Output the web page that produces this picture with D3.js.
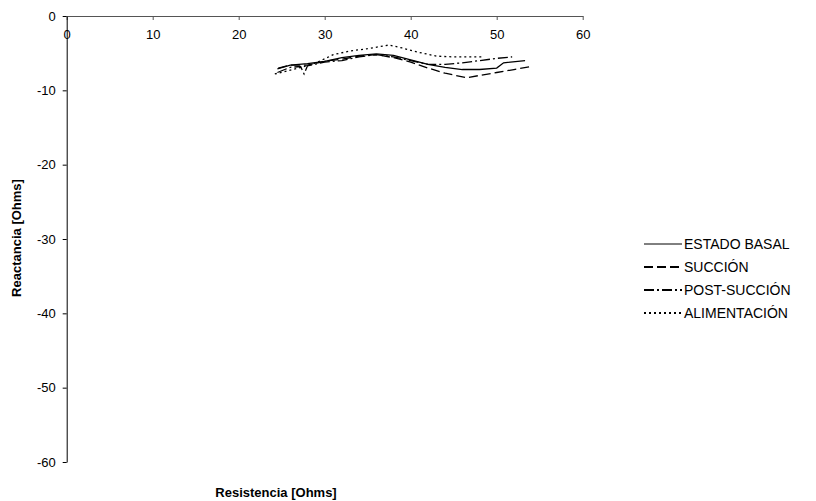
<!DOCTYPE html>
<html>
<head>
<meta charset="utf-8">
<script src="https://cdn.jsdelivr.net/npm/d3@7"></script>
<style>
  body { margin: 0; background: #fff; }
  text { font-family: "Liberation Sans", Arial, sans-serif; }
</style>
</head>
<body>
<div id="chart"></div>
<script>
// Series data: [resistencia, reactancia]
const estadoBasal = [
  [24.5, -7.1], [26, -6.6], [28, -6.4], [30, -6.1], [32, -5.6], [34, -5.3],
  [36, -5.1], [38, -5.3], [40, -5.9], [42, -6.5], [44, -6.9], [46, -7.2],
  [48, -7.2], [50, -7.0], [50.8, -6.3], [53.3, -6.0]
];
const succion = [
  [24.6, -7.0], [26, -6.6], [28, -6.6], [30, -6.1], [32, -5.8], [34, -5.4],
  [36, -5.2], [38, -5.6], [40, -6.2], [42, -7.0], [44, -7.7], [46.5, -8.3],
  [48, -8.0], [50, -7.6], [52, -7.2], [53.9, -6.8]
];
const postSuccion = [
  [24.5, -7.6], [26, -6.9], [27.2, -6.8], [27.6, -7.8], [28, -6.7], [30, -6.2],
  [32, -6.0], [34, -5.5], [36, -5.2], [38, -5.5], [40, -6.0], [42, -6.5],
  [44, -6.5], [46, -6.3], [48, -6.0], [50, -5.7], [51.8, -5.5]
];
const alimentacion = [
  [24.2, -7.8], [27, -7.0], [29, -6.3], [31, -5.2], [33, -4.7], [35, -4.4],
  [37.5, -3.9], [39, -4.3], [41, -4.9], [43, -5.4], [45, -5.5], [48.4, -5.5]
];

const seriesNames = ["ESTADO BASAL", "SUCCIÓN", "POST-SUCCIÓN", "ALIMENTACIÓN"];
const seriesData = [estadoBasal, succion, postSuccion, alimentacion];
const dashes = [null, "9,4", "10,3,2,3", "2,3"];

const xTicks = [0, 10, 20, 30, 40, 50, 60];
const yTicks = [0, -10, -20, -30, -40, -50, -60];

const width = 816, height = 501;

const svg = d3.select("#chart").append("svg")
  .attr("width", width)
  .attr("height", height);

const x = d3.scaleLinear().domain([0, 60]).range([66.7, 582.7]);
const y = d3.scaleLinear().domain([0, -60]).range([16, 462]);

// x axis along y = 0, ticks pointing down, labels below
const xAxis = svg.append("g")
  .attr("transform", `translate(0,${y(0)})`)
  .call(d3.axisBottom(x).tickValues(xTicks).tickSize(4).tickSizeOuter(0).tickPadding(10));
xAxis.select(".domain").attr("stroke", "#555");
xAxis.selectAll(".tick line").attr("stroke", "#555");
xAxis.selectAll("text").attr("font-size", 13).attr("fill", "#000")
  .attr("font-family", "Liberation Sans, Arial, sans-serif");

// y axis
const yAxis = svg.append("g")
  .attr("transform", `translate(${x(0)},0)`)
  .call(d3.axisLeft(y).tickValues(yTicks).tickSize(4).tickSizeOuter(0).tickPadding(7));
yAxis.selectAll("text").attr("font-size", 13).attr("fill", "#000")
  .attr("font-family", "Liberation Sans, Arial, sans-serif")
  .text(d => d === 0 ? "0" : String(d));
yAxis.select(".domain").attr("stroke", "#000");

// axis titles
svg.append("text")
  .attr("x", 276).attr("y", 497)
  .attr("text-anchor", "middle")
  .attr("font-size", 13).attr("font-weight", "bold")
  .text("Resistencia [Ohms]");

svg.append("text")
  .attr("transform", "translate(21,238) rotate(-90)")
  .attr("text-anchor", "middle")
  .attr("font-size", 13).attr("font-weight", "bold")
  .text("Reactancia [Ohms]");

// lines
const line = d3.line().x(d => x(d[0])).y(d => y(d[1]));

seriesData.forEach((s, i) => {
  svg.append("path")
    .datum(s)
    .attr("fill", "none")
    .attr("stroke", "#000")
    .attr("stroke-width", 1.3)
    .attr("stroke-dasharray", dashes[i])
    .attr("d", line);
});

// legend
const legend = svg.append("g");
seriesNames.forEach((name, i) => {
  const ly = 244 + i * 23;
  legend.append("line")
    .attr("x1", 644).attr("x2", 682)
    .attr("y1", ly).attr("y2", ly)
    .attr("stroke", "#000")
    .attr("stroke-width", i === 0 ? 1 : 2)
    .attr("stroke-dasharray", dashes[i]);
  legend.append("text")
    .attr("x", 684).attr("y", ly + 5)
    .attr("font-size", 14)
    .text(name);
});
</script>
</body>
</html>
